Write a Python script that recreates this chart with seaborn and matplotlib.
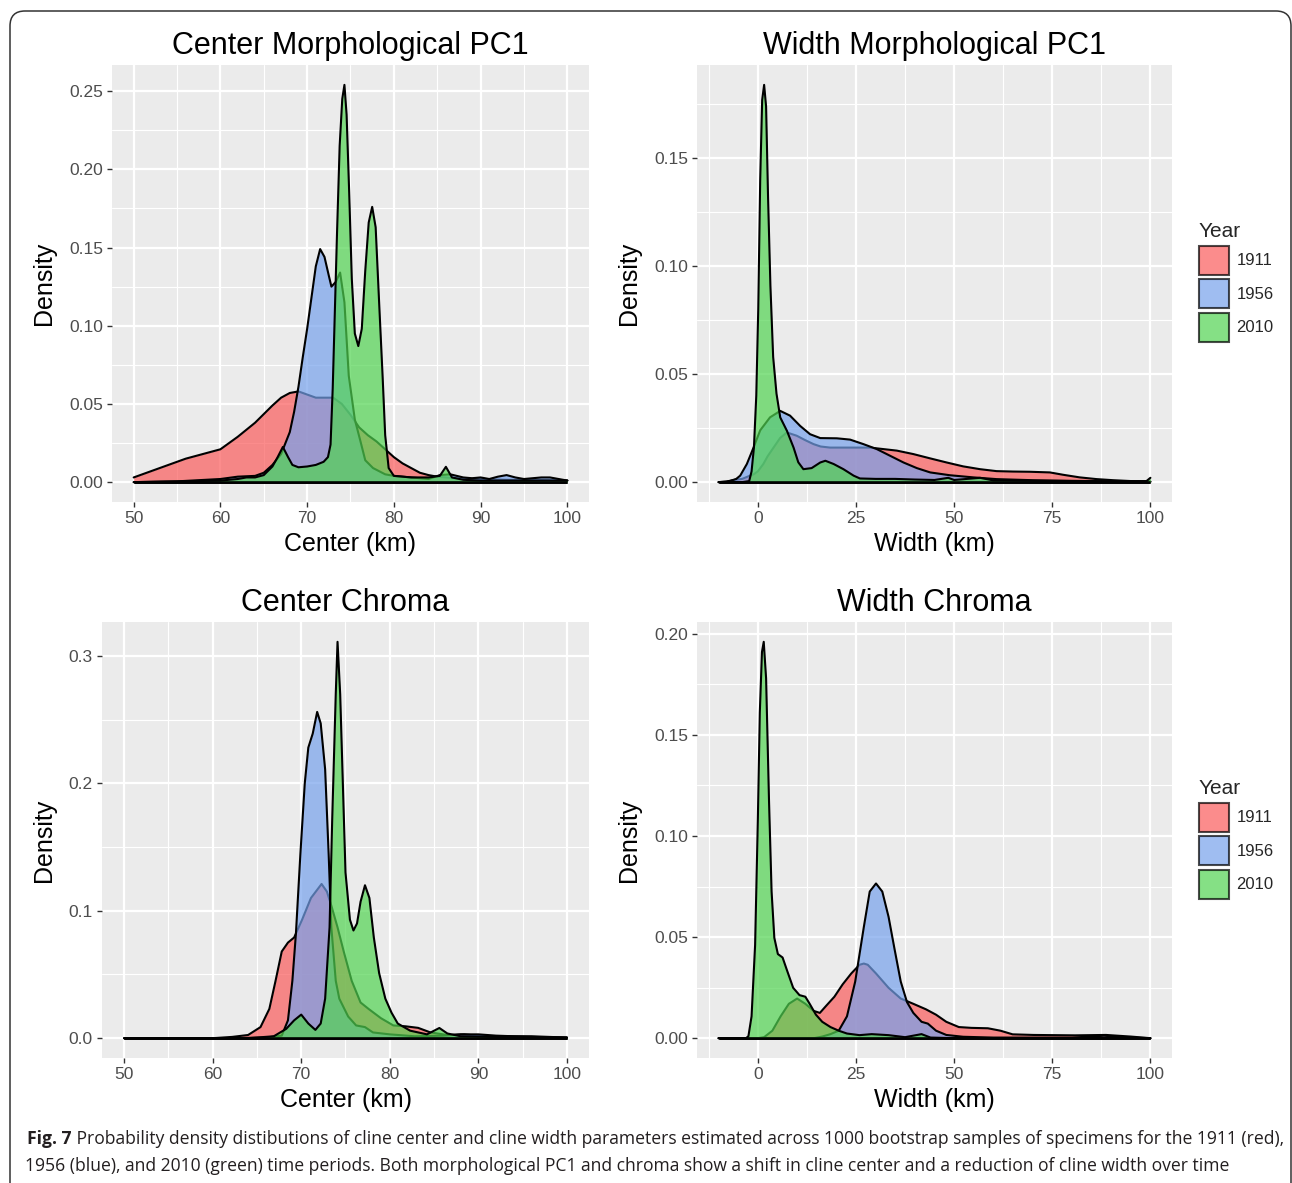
import matplotlib
matplotlib.use('Agg')
import matplotlib.pyplot as plt
from matplotlib.patches import Patch, FancyBboxPatch
from matplotlib import font_manager
import seaborn as sns

W, H = 1292, 1183

YEARS = ['1911', '1956', '2010']
FILL = ['#FA5B5B', '#76A2EC', '#51D451']
ALPHA = 0.7

# --- Center, morphological PC1 ---
cm_x_1911 = [50, 52, 55, 56, 58, 60, 62, 64, 66, 67, 68, 69, 70, 71, 72, 73, 74, 75, 76, 77, 78,
             79.2, 80, 81, 82, 83, 84, 85, 87, 90, 93, 96, 100]
cm_y_1911 = [0.003, 0.007, 0.013, 0.015, 0.018, 0.021, 0.029, 0.038, 0.049, 0.054, 0.057, 0.058,
             0.056, 0.054, 0.054, 0.054, 0.050, 0.043, 0.035, 0.030, 0.026, 0.020, 0.016, 0.012,
             0.009, 0.006, 0.0045, 0.0035, 0.0025, 0.002, 0.0015, 0.0015, 0.001]
cm_x_1956 = [50, 55, 60, 62, 64, 65, 66, 67, 68, 68.5, 69, 69.5, 70, 70.5, 71, 71.5, 72, 72.5,
             72.8, 73.3, 73.8, 74.3, 74.8, 75.5, 76.2, 76.7, 77.6, 79, 80, 82, 84, 85.3, 86.5,
             88, 89, 90, 91, 92, 93, 94, 95, 96, 97, 98, 99, 100]
cm_y_1956 = [0.0, 0.0005, 0.002, 0.0035, 0.004, 0.006, 0.011, 0.018, 0.032, 0.045, 0.061, 0.08,
             0.098, 0.118, 0.138, 0.149, 0.144, 0.132, 0.125, 0.128, 0.134, 0.115, 0.068, 0.040,
             0.025, 0.014, 0.009, 0.005, 0.004, 0.003, 0.002, 0.0045, 0.005, 0.003, 0.0025, 0.003,
             0.002, 0.0035, 0.0045, 0.003, 0.002, 0.0025, 0.003, 0.003, 0.002, 0.001]
cm_x_2010 = [50, 55, 60, 62, 63, 64, 65, 66, 66.6, 67.2, 67.8, 68.3, 69, 70, 71, 71.9, 72.4, 72.7,
             72.95, 73.15, 73.45, 73.75, 74.05, 74.3, 74.55, 74.85, 75.15, 75.5, 75.9, 76.3, 76.7,
             77.1, 77.5, 77.9, 78.3, 78.7, 79.0, 79.4, 80, 82, 84, 85.3, 86, 86.7, 88, 90, 95, 100]
cm_y_2010 = [0.0, 0.0005, 0.001, 0.002, 0.003, 0.003, 0.0045, 0.01, 0.016, 0.0225, 0.016, 0.011,
             0.0095, 0.010, 0.011, 0.013, 0.016, 0.024, 0.06, 0.10, 0.16, 0.215, 0.245, 0.254,
             0.235, 0.185, 0.13, 0.095, 0.087, 0.098, 0.135, 0.166, 0.176, 0.163, 0.115, 0.068,
             0.03, 0.009, 0.004, 0.003, 0.003, 0.004, 0.0098, 0.003, 0.0015, 0.001, 0.001, 0.001]

# --- Width, morphological PC1 ---
wm_x_1911 = [-10, -8, -6, -4, -2, -1, 0, 1.4, 2.5, 4, 5.7, 7.4, 9.9, 12, 14.2, 16, 18.4, 22.6,
             28.6, 32, 35.4, 39.6, 43.9, 48.1, 52.3, 56.6, 60.8, 65, 69.3, 74.4, 77.8, 82, 86.3,
             90.5, 95, 100]
wm_y_1911 = [0.0, 0.0003, 0.001, 0.0015, 0.003, 0.0037, 0.005, 0.0084, 0.012, 0.016, 0.0205,
             0.023, 0.0215, 0.0195, 0.0176, 0.0165, 0.016, 0.016, 0.016, 0.0153, 0.0146, 0.013,
             0.011, 0.0091, 0.0073, 0.006, 0.0051, 0.0049, 0.0048, 0.0045, 0.0034, 0.0022, 0.0014,
             0.0009, 0.0005, 0.0002]
wm_x_1956 = [-10, -8, -7, -5.5, -4.5, -2.8, -1.1, 0.6, 3.1, 5.7, 8.2, 10.8, 13.3, 15.9, 20.1,
             23.5, 26.9, 30.3, 33.7, 37.1, 40.5, 43.9, 48.9, 54.9, 60.8, 70, 80, 90, 100]
wm_y_1956 = [0.0, 0.0002, 0.0006, 0.0015, 0.003, 0.0084, 0.016, 0.024, 0.030, 0.033, 0.0308,
             0.026, 0.0222, 0.0204, 0.0203, 0.0197, 0.0176, 0.0153, 0.0122, 0.0091, 0.0065,
             0.0045, 0.0032, 0.0022, 0.0014, 0.0009, 0.0006, 0.0004, 0.0002]
wm_x_2010 = [-10, -4, -2.2, -1.6, -1.0, -0.4, 0.1, 0.6, 1.1, 1.6, 2.1, 2.6, 3.2, 3.9, 4.75, 5.7,
             7.4, 9.1, 10.3, 11.6, 13.7, 15.9, 17.2, 19.3, 21.8, 24.4, 26, 30, 35, 40, 45, 48.5,
             50, 56.6, 60, 70, 80, 90, 99, 100]
wm_y_2010 = [0.0, 0.0, 0.0005, 0.005, 0.016, 0.04, 0.08, 0.14, 0.177, 0.184, 0.174, 0.132, 0.091,
             0.058, 0.041, 0.030, 0.0238, 0.016, 0.0092, 0.006, 0.0065, 0.0091, 0.0099, 0.0084,
             0.006, 0.003, 0.0017, 0.0015, 0.0015, 0.0012, 0.001, 0.002, 0.001, 0.002, 0.0008,
             0.0006, 0.0005, 0.0004, 0.0005, 0.002]

# --- Center, chroma ---
cc_x_1911 = [50, 60, 62.2, 64, 65.4, 66.4, 67.1, 67.8, 68.5, 69.2, 70.1, 71.1, 72.3, 72.9, 73.4,
             74.1, 74.8, 75.7, 76.7, 77.6, 79, 80.4, 81.8, 83.2, 84.6, 86.5, 88.4, 89.8, 92, 96, 100]
cc_y_1911 = [0.0, 0.0, 0.001, 0.0025, 0.0087, 0.023, 0.045, 0.068, 0.075, 0.079, 0.093, 0.110,
             0.121, 0.115, 0.104, 0.087, 0.068, 0.045, 0.028, 0.023, 0.0157, 0.010, 0.0093,
             0.0081, 0.0045, 0.0025, 0.003, 0.002, 0.0015, 0.0015, 0.0005]
cc_x_1956 = [50, 62, 66, 67.8, 68.5, 69, 69.4, 69.9, 70.4, 70.8, 71.3, 71.8, 72.2, 72.7, 73.1,
             73.4, 73.9, 74.3, 75.3, 76.2, 77.2, 78.1, 80, 82.8, 86, 88, 90, 92, 96, 100]
cc_y_1956 = [0.0, 0.0, 0.0005, 0.002, 0.014, 0.045, 0.082, 0.144, 0.20, 0.228, 0.239, 0.256,
             0.247, 0.211, 0.144, 0.087, 0.045, 0.031, 0.017, 0.010, 0.0087, 0.0045, 0.003,
             0.0015, 0.002, 0.003, 0.003, 0.002, 0.001, 0.0005]
cc_x_2010 = [50, 64, 66.9, 68.3, 69.2, 70, 70.8, 71.6, 72.2, 72.7, 73.2, 73.5, 73.9, 74.1, 74.4,
             74.7, 75, 75.5, 75.9, 76.3, 76.7, 77.2, 77.7, 78.2, 78.8, 79.5, 80.2, 80.9, 82.3,
             84.2, 85.6, 86.5, 88, 92, 100]
cc_y_2010 = [0.0, 0.0, 0.0015, 0.0073, 0.014, 0.0185, 0.0115, 0.0065, 0.0115, 0.031, 0.087,
             0.172, 0.27, 0.311, 0.27, 0.20, 0.13, 0.093, 0.0845, 0.09, 0.107, 0.12, 0.11, 0.079,
             0.051, 0.031, 0.02, 0.0115, 0.0059, 0.003, 0.008, 0.0037, 0.0015, 0.001, 0.0005]

# --- Width, chroma ---
wc_x_1911 = [-10, 0, 1.6, 3.7, 5.8, 7.9, 10, 12.1, 14.2, 15.8, 17.4, 19.5, 21.6, 23.8, 25.9, 27,
             28, 30.1, 33.3, 36.4, 39.6, 42.8, 45.4, 48, 51.2, 54.4, 58.6, 61.8, 64.9, 70.2,
             80.8, 88.7, 95, 100]
wc_y_1911 = [0.0, 0.0, 0.0005, 0.0037, 0.0108, 0.017, 0.0196, 0.017, 0.0135, 0.0125, 0.016,
             0.0205, 0.0266, 0.032, 0.0363, 0.0369, 0.0363, 0.032, 0.0249, 0.0196, 0.017, 0.0143,
             0.0116, 0.0081, 0.0055, 0.0051, 0.0049, 0.0037, 0.0019, 0.0016, 0.0014, 0.0016,
             0.0008, 0.0]
wc_x_1956 = [-10, 14.3, 16.4, 18.5, 20.6, 22.7, 24.8, 27, 28.5, 30.1, 31.7, 33.3, 34.8, 36.4, 38,
             39.6, 41.7, 43.3, 45.4, 48, 52.3, 60, 80, 88.2, 95, 100]
wc_y_1956 = [0.0, 0.0, 0.0008, 0.002, 0.0037, 0.0108, 0.028, 0.055, 0.0725, 0.0765, 0.0725,
             0.060, 0.0443, 0.028, 0.0178, 0.0125, 0.0081, 0.0072, 0.0037, 0.0016, 0.0007,
             0.0003, 0.0003, 0.0012, 0.0003, 0.0]
wc_x_2010 = [-10, -3, -2.4, -1.6, -0.7, 0, 0.5, 1.05, 1.5, 2.1, 2.85, 3.5, 4.2, 5.1, 6.3, 7.4, 9,
             10.6, 12.1, 13.2, 14.8, 16.4, 18.5, 20.6, 22.7, 25.9, 29, 33.3, 37.5, 41.7, 44, 50, 100]
wc_y_2010 = [0.0, 0.0, 0.001, 0.0108, 0.046, 0.108, 0.161, 0.191, 0.196, 0.178, 0.117, 0.0725,
             0.0496, 0.0416, 0.0399, 0.0337, 0.0249, 0.0213, 0.0205, 0.017, 0.0116, 0.0081,
             0.0055, 0.0037, 0.0023, 0.0015, 0.002, 0.0015, 0.0005, 0.002, 0.0003, 0.0, 0.0]

CENTER_TICKS = [50, 60, 70, 80, 90, 100]
WIDTH_TICKS = [0, 25, 50, 75, 100]

CAPTION_1 = ("Probability density distibutions of cline center and cline width parameters "
             "estimated across 1000 bootstrap samples of specimens for the 1911 (red),")
CAPTION_2 = ("1956 (blue), and 2010 (green) time periods. Both morphological PC1 and chroma "
             "show a shift in cline center and a reduction of cline width over time")

sns.set_theme(style='darkgrid', rc={'axes.facecolor': '#EBEBEB', 'grid.color': 'white',
                                    'figure.facecolor': 'white'})
plt.rcParams['font.family'] = ['Liberation Sans', 'DejaVu Sans']


def px_rect(left, top, right, bottom):
    return [left / W, 1 - bottom / H, (right - left) / W, (bottom - top) / H]


def draw_panel(ax, series, title, xlabel, xticks, yticks, yfmt, title_pad):
    for i, (x, y) in enumerate(series):
        ax.fill_between(x, y, 0, facecolor=FILL[i], alpha=ALPHA, lw=0, zorder=2 + 2 * i)
        sns.lineplot(x=x, y=y, color='black', lw=1.5, ax=ax, estimator=None, sort=False,
                     zorder=3 + 2 * i)
        ax.plot([x[0], x[-1]], [0, 0], color='black', lw=1.8, zorder=3 + 2 * i,
                solid_capstyle='butt')

    ax.set_xticks(xticks)
    ax.set_xticklabels([str(t) for t in xticks])
    ax.set_yticks(yticks)
    ax.set_yticklabels([yfmt.format(t) for t in yticks])
    xm = [(a + b) / 2 for a, b in zip(xticks[:-1], xticks[1:])]
    ym = [(a + b) / 2 for a, b in zip(yticks[:-1], yticks[1:])]
    step = xticks[1] - xticks[0]
    xm = [xticks[0] - step / 2] + xm + [xticks[-1] + step / 2]
    ystep = yticks[1] - yticks[0]
    ym = ym + [yticks[-1] + ystep / 2]
    ax.set_xticks(xm, minor=True)
    ax.set_yticks(ym, minor=True)

    # ggplot-style 5% expansion of the data range (after ticks, so they don't widen it)
    xs = [v for x, _ in series for v in x]
    ys = [v for _, y in series for v in y]
    xr = max(xs) - min(xs)
    yr = max(ys) - min(ys)
    ax.set_xlim(min(xs) - 0.05 * xr, max(xs) + 0.05 * xr)
    ax.set_ylim(min(ys) - 0.05 * yr, max(ys) + 0.05 * yr)

    ax.grid(which='major', color='white', lw=1.6)
    ax.grid(which='minor', color='white', lw=0.8)
    ax.tick_params(which='major', length=3.5, width=1.0, color='#333333',
                   labelsize=12.5, labelcolor='#4D4D4D', pad=3, bottom=True, left=True)
    ax.tick_params(which='minor', length=0)
    for s in ax.spines.values():
        s.set_visible(False)
    ax.set_title(title, fontsize=22, pad=title_pad, color='black')
    ax.set_xlabel(xlabel, fontsize=18, labelpad=4, color='black')
    ax.set_ylabel('Density', fontsize=18, labelpad=9, color='black')


fig = plt.figure(figsize=(W / 100, H / 100), dpi=100)

ax1 = fig.add_axes(px_rect(112, 65, 589, 502))
ax2 = fig.add_axes(px_rect(697, 65, 1172, 502))
ax3 = fig.add_axes(px_rect(102, 622, 589, 1058))
ax4 = fig.add_axes(px_rect(697, 622, 1172, 1058))

draw_panel(ax1, [(cm_x_1911, cm_y_1911), (cm_x_1956, cm_y_1956), (cm_x_2010, cm_y_2010)],
           'Center Morphological PC1', 'Center (km)', CENTER_TICKS,
           [0, 0.05, 0.10, 0.15, 0.20, 0.25], '{:.2f}', 8)
draw_panel(ax2, [(wm_x_1911, wm_y_1911), (wm_x_1956, wm_y_1956), (wm_x_2010, wm_y_2010)],
           'Width Morphological PC1', 'Width (km)', WIDTH_TICKS,
           [0, 0.05, 0.10, 0.15], '{:.2f}', 8)
draw_panel(ax3, [(cc_x_1911, cc_y_1911), (cc_x_1956, cc_y_1956), (cc_x_2010, cc_y_2010)],
           'Center Chroma', 'Center (km)', CENTER_TICKS,
           [0, 0.1, 0.2, 0.3], '{:.1f}', 8)
draw_panel(ax4, [(wc_x_1911, wc_y_1911), (wc_x_1956, wc_y_1956), (wc_x_2010, wc_y_2010)],
           'Width Chroma', 'Width (km)', WIDTH_TICKS,
           [0, 0.05, 0.10, 0.15, 0.20], '{:.2f}', 8)

handles = [Patch(facecolor=c, alpha=ALPHA, edgecolor='black', lw=1.5) for c in FILL]
for top in (222, 779):
    leg = fig.legend(handles, YEARS, title='Year', loc='upper left',
                     bbox_to_anchor=(1199 / W, 1 - top / H), frameon=False, fontsize=12,
                     title_fontsize=15, handlelength=1.8, handleheight=2.3, labelspacing=0.27,
                     handletextpad=0.45, borderpad=0, borderaxespad=0, alignment='left')
    for h in leg.legend_handles:
        h.set_edgecolor('black')

# rounded frame around the figure
fig.patches.append(FancyBboxPatch((0.10, -0.3), 12.81, 11.72 + 0.3,
                                  boxstyle='round,pad=0,rounding_size=0.15',
                                  transform=fig.dpi_scale_trans, fill=False,
                                  ec='#333333', lw=1.1))

# caption
names = {f.name for f in font_manager.fontManager.ttflist}
cap_font = 'Liberation Sans Narrow' if 'Liberation Sans Narrow' in names else 'Open Sans'
fig.canvas.draw()
r = fig.canvas.get_renderer()
size = 12
t_bold = fig.text(27 / W, 1 - 1139 / H, 'Fig. 7', fontsize=size, fontweight='bold',
                  family=cap_font, va='center', color='#231F20')
t_l1 = fig.text(0, 1 - 1139 / H, ' ' + CAPTION_1, fontsize=size, family=cap_font,
                va='center', color='#231F20')
t_l2 = fig.text(25 / W, 1 - 1166 / H, CAPTION_2, fontsize=size, family=cap_font,
                va='center', color='#231F20')
wtot = t_bold.get_window_extent(r).width + t_l1.get_window_extent(r).width
size = size * (1280 - 27) / wtot
for t in (t_bold, t_l1, t_l2):
    t.set_fontsize(size)
bx = t_bold.get_window_extent(r)
t_l1.set_x(bx.x1 / W)

fig.savefig('out.png', dpi=100)
